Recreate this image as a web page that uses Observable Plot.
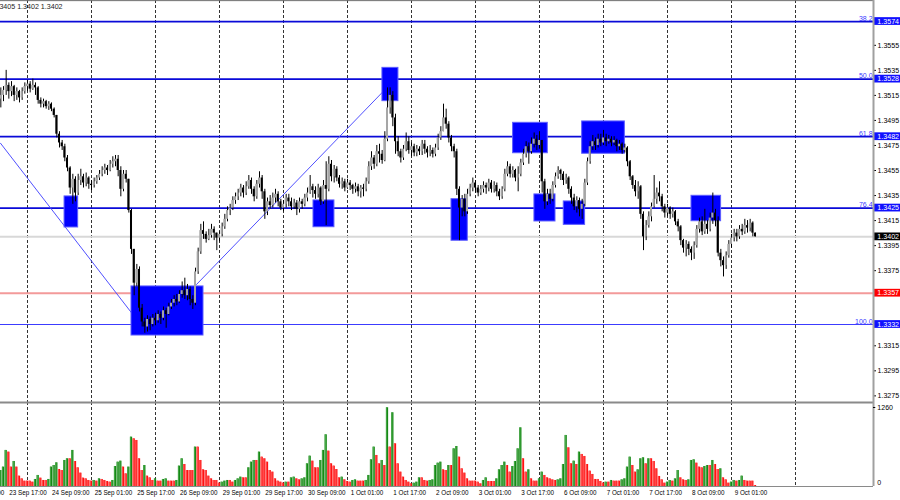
<!DOCTYPE html>
<html><head><meta charset="utf-8">
<script src="https://cdn.jsdelivr.net/npm/d3@7"></script>
<script src="https://cdn.jsdelivr.net/npm/@observablehq/plot@0.6"></script>
<style>
html,body{margin:0;padding:0;background:#fff;}
#chart{position:relative;width:900px;height:500px;overflow:hidden;background:#fff;}
#chart svg{position:absolute;left:0;}
</style></head><body><div id="chart"></div>
<script>
// H1 bars, index 0 = 24 Sep 00:00 (trading hours only)
const firstBar = -10;
const open = [1.3512,1.3515,1.3519,1.3523,1.3518,1.3522,1.3515,1.3518,1.3513,1.3518,
1.3522,1.3524,1.3520,1.3523,1.3521,1.3511,1.3508,1.3510,1.3506,1.3508,
1.3504,1.3499,1.3484,1.3477,1.3474,1.3465,1.3457,1.3441,1.3448,1.3437,
1.3447,1.3450,1.3445,1.3449,1.3444,1.3443,1.3446,1.3449,1.3452,1.3455,
1.3457,1.3455,1.3460,1.3462,1.3464,1.3455,1.3440,1.3452,1.3448,1.3423,
1.3392,1.3365,1.3376,1.3345,1.3334,1.3330,1.3336,1.3332,1.3337,1.3335,
1.3340,1.3337,1.3343,1.3340,1.3346,1.3349,1.3352,1.3350,1.3356,1.3359,
1.3355,1.3360,1.3352,1.3349,1.3374,1.3390,1.3407,1.3404,1.3400,1.3403,
1.3408,1.3405,1.3401,1.3404,1.3410,1.3416,1.3423,1.3425,1.3431,1.3434,
1.3437,1.3441,1.3437,1.3442,1.3447,1.3440,1.3434,1.3444,1.3449,1.3438,
1.3422,1.3430,1.3427,1.3433,1.3436,1.3430,1.3425,1.3428,1.3433,1.3430,
1.3426,1.3429,1.3424,1.3430,1.3428,1.3433,1.3437,1.3442,1.3439,1.3436,
1.3441,1.3430,1.3443,1.3440,1.3460,1.3450,1.3456,1.3449,1.3444,1.3446,
1.3441,1.3445,1.3443,1.3440,1.3442,1.3438,1.3441,1.3440,1.3446,1.3458,
1.3465,1.3460,1.3470,1.3468,1.3463,1.3480,1.3505,1.3515,1.3497,1.3478,
1.3470,1.3465,1.3472,1.3478,1.3471,1.3474,1.3469,1.3472,1.3470,1.3476,
1.3472,1.3469,1.3471,1.3468,1.3473,1.3481,1.3486,1.3497,1.3492,1.3481,
1.3474,1.3470,1.3440,1.3425,1.3432,1.3422,1.3436,1.3441,1.3445,1.3441,
1.3437,1.3440,1.3443,1.3441,1.3445,1.3440,1.3443,1.3438,1.3434,1.3440,
1.3452,1.3458,1.3452,1.3455,1.3449,1.3452,1.3461,1.3468,1.3474,1.3470,
1.3476,1.3480,1.3475,1.3479,1.3446,1.3430,1.3436,1.3432,1.3443,1.3450,
1.3455,1.3452,1.3447,1.3449,1.3440,1.3433,1.3426,1.3431,1.3424,1.3428,
1.3445,1.3462,1.3474,1.3478,1.3475,1.3480,1.3477,1.3481,1.3478,1.3480,
1.3477,1.3479,1.3474,1.3476,1.3471,1.3473,1.3462,1.3450,1.3443,1.3438,
1.3442,1.3420,1.3402,1.3411,1.3418,1.3426,1.3432,1.3437,1.3434,1.3426,
1.3421,1.3425,1.3420,1.3422,1.3414,1.3410,1.3399,1.3393,1.3396,1.3392,
1.3389,1.3395,1.3408,1.3414,1.3406,1.3412,1.3408,1.3417,1.3421,1.3415,
1.3389,1.3383,1.3379,1.3387,1.3396,1.3401,1.3405,1.3402,1.3408,1.3406,
1.3411,1.3409,1.3413,1.3405];
const high = [1.3521,1.3522,1.3535,1.3525,1.3526,1.3523,1.3521,1.3519,1.3521,1.3525,
1.3527,1.3526,1.3528,1.3525,1.3522,1.3513,1.3512,1.3511,1.3510,1.3509,
1.3505,1.3499,1.3486,1.3479,1.3476,1.3467,1.3458,1.3452,1.3450,1.3452,
1.3456,1.3452,1.3453,1.3450,1.3447,1.3449,1.3451,1.3455,1.3458,1.3460,
1.3459,1.3463,1.3466,1.3467,1.3467,1.3458,1.3455,1.3455,1.3448,1.3424,
1.3392,1.3380,1.3378,1.3348,1.3337,1.3339,1.3338,1.3340,1.3341,1.3343,
1.3342,1.3346,1.3345,1.3349,1.3352,1.3355,1.3356,1.3359,1.3366,1.3369,
1.3364,1.3362,1.3355,1.3377,1.3393,1.3412,1.3414,1.3406,1.3408,1.3412,
1.3410,1.3405,1.3406,1.3413,1.3420,1.3426,1.3428,1.3434,1.3437,1.3440,
1.3444,1.3443,1.3446,1.3451,1.3449,1.3442,1.3447,1.3454,1.3451,1.3440,
1.3433,1.3435,1.3437,1.3440,1.3438,1.3432,1.3431,1.3436,1.3436,1.3433,
1.3432,1.3431,1.3433,1.3432,1.3436,1.3441,1.3451,1.3444,1.3442,1.3444,
1.3442,1.3447,1.3462,1.3466,1.3463,1.3459,1.3458,1.3451,1.3449,1.3448,
1.3448,1.3447,1.3444,1.3445,1.3444,1.3443,1.3444,1.3449,1.3462,1.3470,
1.3467,1.3475,1.3476,1.3471,1.3486,1.3521,1.3521,1.3518,1.3500,1.3482,
1.3472,1.3475,1.3485,1.3482,1.3477,1.3476,1.3475,1.3474,1.3479,1.3479,
1.3474,1.3475,1.3473,1.3476,1.3484,1.3490,1.3508,1.3504,1.3494,1.3483,
1.3476,1.3472,1.3442,1.3435,1.3436,1.3440,1.3444,1.3449,1.3447,1.3443,
1.3443,1.3446,1.3445,1.3448,1.3447,1.3446,1.3445,1.3440,1.3442,1.3456,
1.3462,1.3460,1.3458,1.3456,1.3458,1.3464,1.3472,1.3478,1.3477,1.3481,
1.3485,1.3483,1.3486,1.3479,1.3448,1.3440,1.3440,1.3446,1.3453,1.3458,
1.3456,1.3454,1.3452,1.3450,1.3442,1.3436,1.3434,1.3433,1.3432,1.3448,
1.3465,1.3478,1.3483,1.3481,1.3484,1.3484,1.3487,1.3484,1.3483,1.3482,
1.3482,1.3480,1.3479,1.3477,1.3476,1.3474,1.3463,1.3451,1.3447,1.3446,
1.3443,1.3422,1.3415,1.3422,1.3429,1.3451,1.3441,1.3446,1.3436,1.3428,
1.3428,1.3426,1.3425,1.3423,1.3416,1.3411,1.3400,1.3399,1.3398,1.3394,
1.3398,1.3411,1.3417,1.3418,1.3424,1.3415,1.3421,1.3437,1.3424,1.3418,
1.3392,1.3386,1.3390,1.3399,1.3404,1.3408,1.3408,1.3411,1.3412,1.3416,
1.3415,1.3416,1.3414,1.3405];
const low = [1.3505,1.3510,1.3515,1.3512,1.3514,1.3510,1.3511,1.3509,1.3511,1.3516,
1.3518,1.3517,1.3519,1.3515,1.3508,1.3505,1.3505,1.3504,1.3503,1.3502,
1.3497,1.3481,1.3473,1.3471,1.3462,1.3454,1.3436,1.3428,1.3430,1.3435,
1.3443,1.3441,1.3442,1.3440,1.3439,1.3441,1.3444,1.3447,1.3450,1.3452,
1.3451,1.3454,1.3457,1.3458,1.3450,1.3434,1.3438,1.3445,1.3421,1.3388,
1.3355,1.3362,1.3342,1.3330,1.3325,1.3326,1.3327,1.3330,1.3331,1.3333,
1.3332,1.3335,1.3329,1.3339,1.3344,1.3346,1.3347,1.3349,1.3353,1.3352,
1.3351,1.3347,1.3344,1.3347,1.3372,1.3388,1.3400,1.3397,1.3399,1.3401,
1.3399,1.3391,1.3398,1.3402,1.3408,1.3414,1.3419,1.3423,1.3428,1.3431,
1.3434,1.3433,1.3435,1.3440,1.3436,1.3430,1.3432,1.3441,1.3432,1.3416,
1.3419,1.3424,1.3425,1.3429,1.3426,1.3423,1.3422,1.3425,1.3426,1.3423,
1.3424,1.3419,1.3421,1.3424,1.3426,1.3430,1.3436,1.3433,1.3432,1.3433,
1.3427,1.3428,1.3411,1.3438,1.3446,1.3445,1.3446,1.3441,1.3440,1.3438,
1.3440,1.3439,1.3436,1.3437,1.3434,1.3433,1.3434,1.3438,1.3444,1.3455,
1.3456,1.3458,1.3461,1.3460,1.3462,1.3478,1.3500,1.3490,1.3468,1.3466,
1.3461,1.3463,1.3470,1.3468,1.3466,1.3466,1.3466,1.3467,1.3467,1.3468,
1.3465,1.3466,1.3465,1.3466,1.3471,1.3479,1.3486,1.3488,1.3477,1.3470,
1.3465,1.3435,1.3399,1.3418,1.3418,1.3420,1.3434,1.3438,1.3437,1.3434,
1.3435,1.3437,1.3436,1.3438,1.3437,1.3437,1.3434,1.3431,1.3432,1.3438,
1.3450,1.3449,1.3449,1.3446,1.3438,1.3450,1.3459,1.3465,1.3460,1.3468,
1.3473,1.3471,1.3472,1.3437,1.3424,1.3427,1.3428,1.3430,1.3441,1.3448,
1.3447,1.3443,1.3444,1.3436,1.3428,1.3423,1.3421,1.3418,1.3416,1.3426,
1.3443,1.3460,1.3471,1.3471,1.3473,1.3474,1.3475,1.3474,1.3476,1.3474,
1.3475,1.3470,1.3471,1.3468,1.3469,1.3458,1.3447,1.3440,1.3434,1.3432,
1.3416,1.3391,1.3399,1.3409,1.3414,1.3425,1.3428,1.3430,1.3422,1.3417,
1.3418,1.3416,1.3417,1.3411,1.3406,1.3395,1.3389,1.3386,1.3387,1.3383,
1.3384,1.3393,1.3405,1.3403,1.3404,1.3404,1.3406,1.3412,1.3410,1.3386,
1.3378,1.3370,1.3376,1.3385,1.3393,1.3398,1.3398,1.3400,1.3403,1.3404,
1.3405,1.3406,1.3402,1.3402];
const close = [1.3515,1.3519,1.3523,1.3518,1.3522,1.3515,1.3518,1.3513,1.3518,1.3522,
1.3524,1.3520,1.3523,1.3521,1.3511,1.3508,1.3510,1.3506,1.3508,1.3504,
1.3499,1.3484,1.3477,1.3474,1.3465,1.3457,1.3441,1.3448,1.3437,1.3447,
1.3450,1.3445,1.3449,1.3444,1.3443,1.3446,1.3449,1.3452,1.3455,1.3457,
1.3455,1.3460,1.3462,1.3464,1.3455,1.3440,1.3452,1.3448,1.3423,1.3392,
1.3365,1.3376,1.3345,1.3334,1.3330,1.3336,1.3332,1.3337,1.3335,1.3340,
1.3337,1.3343,1.3340,1.3346,1.3349,1.3352,1.3350,1.3356,1.3359,1.3355,
1.3360,1.3352,1.3349,1.3374,1.3390,1.3407,1.3404,1.3400,1.3403,1.3408,
1.3405,1.3401,1.3404,1.3410,1.3416,1.3423,1.3425,1.3431,1.3434,1.3437,
1.3441,1.3437,1.3442,1.3447,1.3440,1.3434,1.3444,1.3449,1.3438,1.3422,
1.3430,1.3427,1.3433,1.3436,1.3430,1.3425,1.3428,1.3433,1.3430,1.3426,
1.3429,1.3424,1.3430,1.3428,1.3433,1.3437,1.3442,1.3439,1.3436,1.3441,
1.3430,1.3443,1.3440,1.3460,1.3450,1.3456,1.3449,1.3444,1.3446,1.3441,
1.3445,1.3443,1.3440,1.3442,1.3438,1.3441,1.3440,1.3446,1.3458,1.3465,
1.3460,1.3470,1.3468,1.3463,1.3480,1.3505,1.3515,1.3497,1.3478,1.3470,
1.3465,1.3472,1.3478,1.3471,1.3474,1.3469,1.3472,1.3470,1.3476,1.3472,
1.3469,1.3471,1.3468,1.3473,1.3481,1.3486,1.3497,1.3492,1.3481,1.3474,
1.3470,1.3440,1.3425,1.3432,1.3422,1.3436,1.3441,1.3445,1.3441,1.3437,
1.3440,1.3443,1.3441,1.3445,1.3440,1.3443,1.3438,1.3434,1.3440,1.3452,
1.3458,1.3452,1.3455,1.3449,1.3452,1.3461,1.3468,1.3474,1.3470,1.3476,
1.3480,1.3475,1.3479,1.3446,1.3430,1.3436,1.3432,1.3443,1.3450,1.3455,
1.3452,1.3447,1.3449,1.3440,1.3433,1.3426,1.3431,1.3424,1.3428,1.3445,
1.3462,1.3474,1.3478,1.3475,1.3480,1.3477,1.3481,1.3478,1.3480,1.3477,
1.3479,1.3474,1.3476,1.3471,1.3473,1.3462,1.3450,1.3443,1.3438,1.3442,
1.3420,1.3402,1.3411,1.3418,1.3426,1.3432,1.3437,1.3434,1.3426,1.3421,
1.3425,1.3420,1.3422,1.3414,1.3410,1.3399,1.3393,1.3396,1.3392,1.3389,
1.3395,1.3408,1.3414,1.3406,1.3412,1.3408,1.3417,1.3421,1.3415,1.3389,
1.3383,1.3379,1.3387,1.3396,1.3401,1.3405,1.3402,1.3408,1.3406,1.3411,
1.3409,1.3413,1.3405,1.3402];
const volume = [255,309,575,548,309,399,309,165,122,85,
85,85,69,112,176,133,96,96,112,309,
335,378,271,255,415,442,442,575,399,298,
213,133,122,96,85,96,85,122,112,96,
80,69,96,319,388,404,309,202,309,787,
761,734,442,255,335,165,138,96,122,85,
85,112,122,85,85,85,96,325,442,351,
255,255,255,628,628,415,266,255,165,122,
96,96,53,69,85,96,96,69,96,122,
149,138,138,298,388,415,415,548,468,442,
388,255,229,122,85,69,53,69,69,138,
149,122,106,122,138,362,484,404,298,298,
415,575,825,564,362,325,271,138,149,106,
80,69,96,106,85,85,85,96,176,426,
628,495,362,415,335,1256,628,1176,681,362,
229,149,96,69,43,53,69,138,138,96,
85,96,106,335,372,388,266,255,335,335,
601,638,468,282,213,122,85,85,85,69,
43,96,138,80,80,80,122,266,335,388,
335,229,319,399,601,936,442,229,266,122,
85,85,122,229,176,138,122,106,96,106,
122,351,814,617,362,404,351,548,511,479,
351,245,192,112,112,80,53,69,69,96,
85,85,85,106,122,309,468,335,229,266,
442,458,362,442,442,399,282,160,106,53,
69,96,85,122,255,138,106,96,106,415,
426,372,309,298,319,335,335,415,351,271,
282,138,106,53,69,96,85,96,165,96,
85,85,85,16];

const gridBars = [0,24,48,72,96,120,144,168,192,216,240,264,288];
const timeLabelBars = [-23,-7,9,25,41,57,73,89,105,121,137,153,169,185,201,217,233,249,265];
const timeLabelText = ["23 Sep 01:00","23 Sep 17:00","24 Sep 09:00","25 Sep 01:00","25 Sep 17:00","26 Sep 09:00","29 Sep 01:00","29 Sep 17:00","30 Sep 09:00","1 Oct 01:00","1 Oct 17:00","2 Oct 09:00","3 Oct 01:00","3 Oct 17:00","6 Oct 09:00","7 Oct 01:00","7 Oct 17:00","8 Oct 09:00","9 Oct 01:00"];
const priceTicks = [1.3275,1.3295,1.3315,1.3375,1.3395,1.3415,1.3435,1.3455,1.3475,1.3495,1.3515,1.3535,1.3555];
const fibLevels = [1.3574,1.3528,1.3482,1.3425,1.3332];
const fibLabels = ["38.2","50.0","61.8","76.4","100.0"];
const supportLevel = 1.3357;
const lastPrice = 1.3402;
const volumeMax = 1260;
const boxStart = [13.9,39,107.25,133.1,159,182.1,190.1,201.1,208,249];
const boxEnd   = [19,66,115.1,139.1,165.1,195.1,198,209.1,224,260.1];
const boxHigh  = [1.34343,1.33624,1.34311,1.35370,1.34321,1.34931,1.34359,1.34303,1.34942,1.34348];
const boxLow   = [1.34095,1.33232,1.34097,1.35104,1.33989,1.34688,1.34143,1.34116,1.34684,1.34145];
const trendABars = [-10.125,42.4], trendAPrices = [1.34768,1.3332];
const trendBBars = [63.4,133.5],  trendBPrices = [1.3364,1.35184];
const headerText = "1.3405 1.3402 1.3402";

const font = "'Liberation Sans', Arial, sans-serif";
const xDomain = [-10.125, 317.25];
const axisBoxX1 = 317.45, axisBoxX2 = 327.5, axisTextX = 318.7;

const bars = close.map((c,i)=>({n:i+firstBar,o:open[i],h:high[i],l:low[i],c}));
const boxes = boxStart.map((s,i)=>({x1:s,x2:boxEnd[i],y1:boxLow[i],y2:boxHigh[i]}));
const trendA = trendABars.map((b,i)=>({b,p:trendAPrices[i]}));
const trendB = trendBBars.map((b,i)=>({b,p:trendBPrices[i]}));
const axisBoxes = [
  ...fibLevels.map(p=>({p,fill:"#1010ff"})),
  {p:supportLevel,fill:"#ff0000"},
  {p:lastPrice,fill:"#000000"}
];
const pTop = 1.35908, pBottom = 1.32697;

const pricePlot = Plot.plot({
  width:900, height:402, marginTop:0, marginBottom:0, marginLeft:0, marginRight:27,
  x:{type:"linear", domain:xDomain, axis:null, label:null},
  y:{domain:[pBottom,pTop], label:null},
  color:{type:"identity"},
  style:{fontFamily:font, background:"#fff"},
  marks:[
    Plot.ruleX(gridBars,{stroke:"#333",strokeDasharray:"3,2"}),
    Plot.ruleY([lastPrice],{stroke:"#d8d8d8",strokeWidth:2}),
    Plot.ruleY([supportLevel],{stroke:"#f39a9a",strokeWidth:2}),
    Plot.ruleY(fibLevels.slice(0,4),{stroke:"#0a0ad8",strokeWidth:1.8}),
    Plot.ruleY([fibLevels[4]],{stroke:"#3c3cff",strokeWidth:1.2}),
    Plot.line(trendA,{x:"b",y:"p",stroke:"#5050ff",strokeWidth:1}),
    Plot.line(trendB,{x:"b",y:"p",stroke:"#5050ff",strokeWidth:1}),
    Plot.rect(boxes,{x1:"x1",x2:"x2",y1:"y1",y2:"y2",fill:"#0000ff",stroke:"#5c5cff",strokeWidth:1}),
    Plot.ruleX(bars,{x:"n",y1:"l",y2:"h",stroke:"#000",strokeWidth:1}),
    Plot.rect(bars,{x1:d=>d.n-0.38,x2:d=>d.n+0.38,y1:"o",y2:"c",fill:d=>d.c>=d.o?"#a6a6a6":"#000000"}),
    Plot.text(fibLabels,{x:316.9,y:(d,i)=>fibLevels[i],text:d=>d,textAnchor:"end",lineAnchor:"bottom",dy:-1,fill:"#3a3aff",fontSize:7}),
    Plot.axisY({anchor:"right",ticks:priceTicks,tickFormat:d=>d.toFixed(4),tickSize:2,tickPadding:2,fontSize:7.1,color:"#000",label:null}),
    Plot.rect(axisBoxes,{x1:axisBoxX1,x2:axisBoxX2,y1:d=>d.p-0.00031,y2:d=>d.p+0.00031,fill:"fill"}),
    Plot.text(axisBoxes,{x:axisTextX,y:"p",text:d=>d.p.toFixed(4),fill:"#fff",textAnchor:"start",fontSize:7.1}),
    Plot.ruleY([pTop-0.00001],{stroke:"#6e6e6e"}),
    Plot.ruleY([pBottom],{stroke:"#8a8a8a",strokeWidth:2}),
    Plot.ruleX([xDomain[1]],{stroke:"#a0a0a0",strokeWidth:2}),
    Plot.text([headerText],{frameAnchor:"top-left",text:d=>d,dx:-7,dy:3,lineAnchor:"top",textAnchor:"start",fontSize:7.1,fill:"#222"})
  ]
});

const vols = volume.map((v,i)=>({n:i+firstBar,v,up: i===0 ? true : v>volume[i-1]}));
const vTop = 1339.7;
const volumePlot = Plot.plot({
  width:900, height:98, marginTop:0, marginBottom:14, marginLeft:0, marginRight:27,
  x:{type:"linear", domain:xDomain, axis:null, label:null},
  y:{type:"linear", domain:[0,vTop], axis:null, label:null},
  color:{type:"identity"},
  style:{fontFamily:font, background:"#fff"},
  marks:[
    Plot.ruleX(gridBars,{stroke:"#333",strokeDasharray:"3,2"}),
    Plot.rect(vols,{x1:d=>d.n-0.42,x2:d=>d.n+0.42,y1:0,y2:"v",fill:d=>d.up?"#0a820a":"#ff0000"}),
    Plot.ruleX(vols,{x:d=>d.n-0.3,y1:0,y2:"v",stroke:d=>d.up?"#62b862":"#ff7070",strokeWidth:0.8}),
    Plot.ruleY([vTop],{stroke:"#8a8a8a",strokeWidth:2}),
    Plot.ruleY([0],{stroke:"#8a8a8a"}),
    Plot.ruleX([xDomain[1]],{stroke:"#a0a0a0",strokeWidth:2}),
    Plot.ruleY([volumeMax],{x1:xDomain[1],x2:318.1,stroke:"#000"}),
    Plot.text([volumeMax],{x:axisTextX,y:d=>d,text:d=>String(d),textAnchor:"start",fontSize:7,fill:"#000"}),
    Plot.text([0],{x:axisTextX,y:0,text:d=>String(d),textAnchor:"start",dy:-4,fontSize:7,fill:"#000"}),
    Plot.text(timeLabelText,{x:(d,i)=>timeLabelBars[i],y:0,text:d=>d,textAnchor:"start",dx:0.5,dy:6.5,fontSize:6.3,fill:"#000"})
  ]
});

const host = document.getElementById("chart");
pricePlot.style.top = "0px";
volumePlot.style.top = "402px";
host.appendChild(pricePlot);
host.appendChild(volumePlot);
</script></body></html>
